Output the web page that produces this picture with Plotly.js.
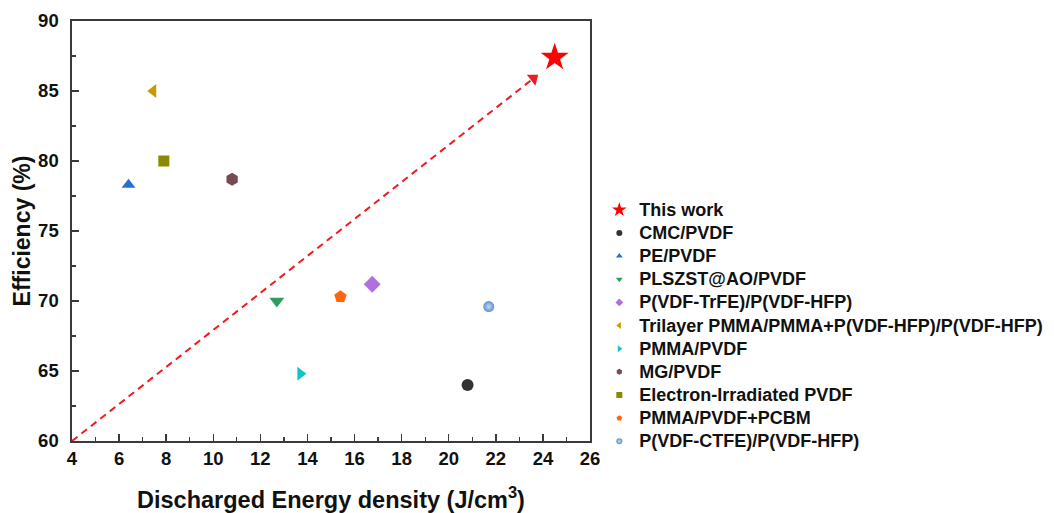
<!DOCTYPE html>
<html><head><meta charset="utf-8">
<script src="https://cdn.plot.ly/plotly-3.0.1.min.js"></script>
<style>
html,body{margin:0;padding:0;background:#fff}
#chart{width:1054px;height:513px}
#chart .legendtext{font-size:18px !important}
#chart .legend .scrollbox{clip-path:none !important}
</style>
</head><body><div id="chart"></div>
<script>
const names = ["This work","CMC/PVDF","PE/PVDF","PLSZST@AO/PVDF","P(VDF-TrFE)/P(VDF-HFP)","Trilayer PMMA/PMMA+P(VDF-HFP)/P(VDF-HFP)","PMMA/PVDF","MG/PVDF","Electron-Irradiated PVDF","PMMA/PVDF+PCBM","P(VDF-CTFE)/P(VDF-HFP)"];
const energy = [24.5, 20.8, 6.4, 12.7, 16.75, 7.45, 13.7, 10.8, 7.9, 15.4, 21.7];
const efficiency = [87.4, 64.0, 78.3, 70.0, 71.2, 85.0, 64.8, 78.7, 80.0, 70.3, 69.6];
const symbols = ["star","circle","triangle-up","triangle-down","diamond","triangle-left","triangle-right","hexagon","square","pentagon","circle"];
const colors = ["#ff0000","#333333","#2470d8","#2e9e5e","#b070e0","#c89a00","#12c4c8","#7a4a52","#8a8a00","#ff6410","#5a92d2"];
const sizes = [21,12,12,13,13,12,12,13,11,13,11];
const legendSizes = [11,6,6,6,6,6,6,6,6,6,6];
const trendX = [4, 23.6];
const trendY = [60, 85.9];

const traces = [];
for (let i = 0; i < names.length; i++) {
  const m = {symbol: symbols[i], color: colors[i], size: sizes[i], line: {width: 0}};
  if (i === 10) m.gradient = {type: "radial", color: "#c4daf2"};
  traces.push({x: [energy[i]], y: [efficiency[i]], type: "scatter", mode: "markers", name: names[i], marker: m, cliponaxis: false, showlegend: false});
}
traces.push({x: trendX, y: trendY, type: "scatter", mode: "lines", line: {color: "#ea1c24", width: 2, dash: "7px,5px"}, showlegend: false, hoverinfo: "skip"});
traces.push({x: [trendX[1]], y: [trendY[1]], type: "scatter", mode: "markers", marker: {symbol: "triangle-up", size: 12, color: "#ea1c24", angle: 52, line: {width: 0}}, showlegend: false, hoverinfo: "skip", cliponaxis: false});
for (let i = 0; i < names.length; i++) {
  const m = {symbol: symbols[i], color: colors[i], size: legendSizes[i], line: {width: 0}};
  if (i === 10) m.gradient = {type: "radial", color: "#c4daf2"};
  traces.push({x: [null], y: [null], type: "scatter", mode: "markers", name: names[i], marker: m, showlegend: true});
}

const fam = "Liberation Sans, Arial, sans-serif";
const layout = {
  width: 1054, height: 513,
  margin: {l: 72, r: 464, t: 21, b: 72},
  paper_bgcolor: "#fff", plot_bgcolor: "#fff",
  showlegend: true,
  legend: {x: 1.018, y: 0.59, xanchor: "left", yanchor: "top", font: {family: fam, size: 15.5, color: "#111", weight: "bold"}, tracegroupgap: 0, bgcolor: "rgba(0,0,0,0)"},
  xaxis: {range: [4, 26], dtick: 2, tick0: 4, showgrid: false, zeroline: false,
    showline: true, linecolor: "#3a3a3a", linewidth: 1.6, mirror: true,
    ticks: "inside", ticklen: 7, tickwidth: 1.5, tickcolor: "#3a3a3a",
    minor: {ticks: "inside", ticklen: 4, tickwidth: 1.2, tickcolor: "#3a3a3a", dtick: 1, showgrid: false},
    tickfont: {family: fam, size: 18.5, color: "#111", weight: "bold"},
    title: {text: "Discharged Energy density (J/cm<sup>3</sup>)", font: {family: fam, size: 23.5, color: "#111", weight: "bold"}, standoff: 24}},
  yaxis: {range: [60, 90], dtick: 5, showgrid: false, zeroline: false,
    showline: true, linecolor: "#3a3a3a", linewidth: 1.6, mirror: true,
    ticks: "inside", ticklen: 7, tickwidth: 1.5, tickcolor: "#3a3a3a",
    minor: {ticks: "inside", ticklen: 4, tickwidth: 1.2, tickcolor: "#3a3a3a", dtick: 2.5, showgrid: false},
    tickfont: {family: fam, size: 18.5, color: "#111", weight: "bold"},
    ticklabelstandoff: 8,
    title: {text: "Efficiency (%)", font: {family: fam, size: 23, color: "#111", weight: "bold"}, standoff: 1}}
};
Plotly.newPlot("chart", traces, layout, {displayModeBar: false, staticPlot: true});
</script></body></html>
